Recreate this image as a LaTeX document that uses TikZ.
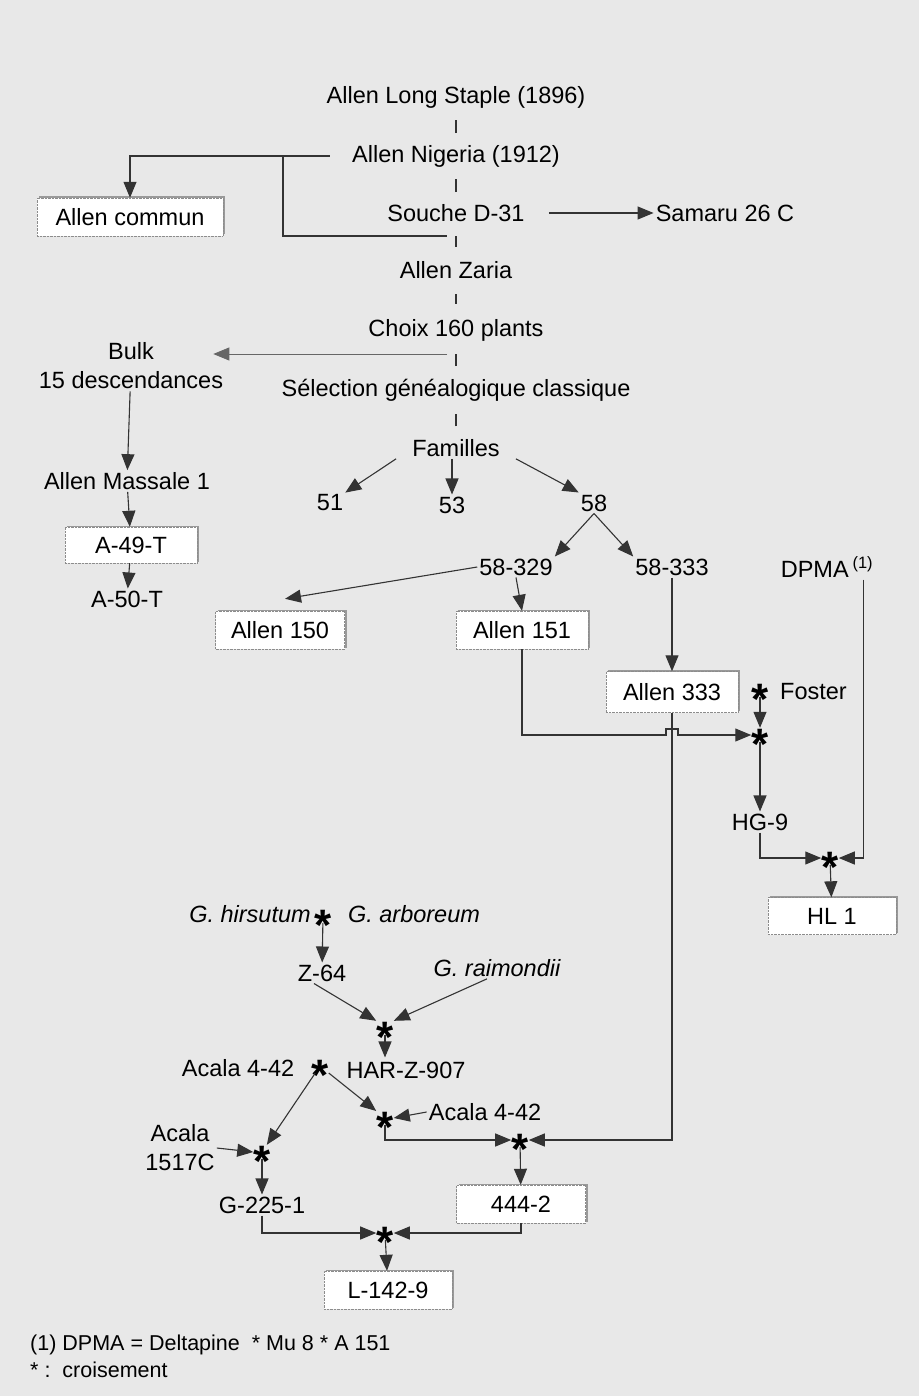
\documentclass[tikz,border=0pt]{standalone}
\usepackage{fontspec}
\setmainfont{Liberation Sans}
\usetikzlibrary{arrows.meta,shadows}

\newcommand{\crs}{\smash{\raisebox{-24pt}{*}}}

\tikzset{
    lbl/.style={inner sep=2pt, font=\fontsize{23.5}{29}\selectfont},
    box/.style={lbl, draw=black!45, densely dotted, fill=white, minimum height=38pt,
        drop shadow={shadow xshift=2pt, shadow yshift=1.5pt, fill=black!40, opacity=1}},
    cross/.style={inner sep=0pt, minimum size=14pt, font=\fontsize{44}{44}\selectfont\bfseries},
    link/.style={line width=1.1pt, draw=black!80},
    arr/.style={link, -{Triangle[length=16pt,width=13pt]}},
    tick/.style={link, shorten <=23pt, shorten >=23pt}
}

\begin{document}
\begin{tikzpicture}[x=1pt,y=-1pt]
    % background
    \fill[black!9] (0,0) rectangle (919,1396);
    \useasboundingbox (0,0) rectangle (919,1396);

    % main line
    \node[lbl] (lsta) at (456,97) {Allen Long Staple (1896)};
    \node[lbl] (nig) at (456,156) {Allen Nigeria (1912)};
    \node[lbl] (d31) at (456,213) {Souche D-31};
    \node[lbl] (sam) at (725,213) {Samaru 26 C};
    \node[box, minimum width=186pt] (commun) at (130,217) {Allen commun};
    \node[lbl] (zaria) at (456,270) {Allen Zaria};
    \node[lbl] (choix) at (456,330) {Choix 160 plants};
    \node[lbl] (sel) at (456,390) {Sélection généalogique classique};
    \node[lbl] (fam) at (456,448) {Familles};
    \foreach \a/\b in {lsta/nig, nig/d31, d31/zaria, zaria/choix, choix/sel, sel/fam}
        \draw[tick] (\a) -- (\b);
    \draw[arr, shorten <=22pt] (d31.east) -- (sam.west);

    % Allen commun
    \coordinate (brk) at (283,156);
    \coordinate (dbr) at (447,236);
    \draw[arr, shorten <=20pt] (nig.west) -| (commun.north);
    \draw[link] (brk) |- (dbr);

    % bulk
    \coordinate (cbr) at (447,354);
    \node[lbl, align=center] (bulk) at (131,366) {Bulk\\15 descendances};
    \node[lbl] (mass) at (127,481) {Allen Massale 1};
    \node[box, minimum width=132pt, minimum height=36pt] (a49) at (131,545) {A-49-T};
    \node[lbl] (a50) at (127,599) {A-50-T};
    \draw[arr, line width=0.8pt, draw=black!60, shorten >=-12pt] (cbr) -- (cbr -| bulk.east);
    \draw[arr] (bulk) -- (mass);
    \draw[arr] (mass) -- (a49);
    \draw[arr] (a49) -- (a50);

    % familles
    \node[lbl] (f51) at (330,503) {51};
    \node[lbl] (f53) at (452,505) {53};
    \node[lbl] (f58) at (594,503) {58};
    \draw[arr] ([xshift=-14pt]fam.south west) -- (f51.north east);
    \draw[arr] (fam.south -| f53.north) -- (f53.north);
    \draw[arr] ([xshift=14pt]fam.south east) -- (f58.north west);

    \node[lbl] (s329) at (516,567) {58-329};
    \node[lbl] (s333) at (672,567) {58-333};
    \node[lbl] (dpma) at (827,567) {DPMA\,\textsuperscript{(1)}};
    \draw[arr] (f58.south) -- (s329.north east);
    \draw[arr] (f58.south) -- (s333.north west);

    \node[box, minimum width=129pt] (a150) at (280,630) {Allen 150};
    \node[box, minimum width=132pt] (a151) at (522,630) {Allen 151};
    \node[box, minimum width=132pt, minimum height=41pt] (a333) at (672,692) {Allen 333};
    \draw[arr] (s329.west) -- ([xshift=5pt,yshift=12pt]a150.north);
    \draw[arr] (s329.south) -- (a151.north);
    \draw[arr] (s333.south) -- (a333.north);

    % HL 1
    \node[cross] (xf) at (760,690) {\crs};
    \node[lbl, anchor=west] (foster) at (778,692) {Foster};
    \node[cross] (x1) at (760,735) {\crs};
    \node[lbl] (hg9) at (760,822) {HG-9};
    \node[cross] (x2) at (830,858) {\crs};
    \node[box, minimum width=128pt, minimum height=37pt] (hl1) at (832,916) {HL 1};
    \coordinate (hop) at (666,735);
    \draw[arr] (a151.south) |- (hop) -- ++(0,-6) -- ++(12,0) -- ++(0,6) -- (x1.west);
    \draw[arr] (xf) -- (x1);
    \draw[arr] (x1) -- (hg9);
    \draw[arr] (hg9.south) |- (x2.west);
    \draw[arr] ([xshift=-12pt]dpma.south east) |- (x2.east);
    \draw[arr] (x2) -- (hl1);

    % HAR-Z-907
    \node[lbl, font=\fontsize{23.5}{29}\selectfont\itshape] (ghir) at (250,914) {G. hirsutum};
    \node[cross] (x3) at (323,916) {\crs};
    \node[lbl, font=\fontsize{23.5}{29}\selectfont\itshape] (garb) at (414,914) {G. arboreum};
    \node[lbl] (z64) at (322,973) {Z-64};
    \node[lbl, font=\fontsize{23.5}{29}\selectfont\itshape] (grai) at (497,968) {G. raimondii};
    \node[cross] (x4) at (385,1028) {\crs};
    \node[lbl] (har) at (406,1070) {HAR-Z-907};
    \draw[arr] (x3) -- (z64);
    \draw[arr] ([xshift=-8pt]z64.south) -- (x4.north west);
    \draw[arr] ([xshift=-10pt]grai.south) -- (x4.north east);
    \draw[arr, shorten >=2pt] (x4) -- (x4 |- har.north);

    % L-142-9
    \node[lbl] (ac1) at (238,1068) {Acala 4-42};
    \node[cross] (x5) at (320,1066) {\crs};
    \node[cross] (x6) at (385,1118) {\crs};
    \node[lbl] (ac2) at (485,1112) {Acala 4-42};
    \node[lbl, align=center] (acb) at (180,1148) {Acala\\1517C};
    \node[cross] (x7) at (262,1152) {\crs};
    \node[lbl] (g225) at (262,1205) {G-225-1};
    \node[cross] (x8) at (520,1140) {\crs};
    \node[box, minimum width=129pt] (b444) at (521,1204) {444-2};
    \node[cross] (x9) at (385,1233) {\crs};
    \node[box, minimum width=128pt] (l142) at (388,1290) {L-142-9};
    \draw[arr] (x5) -- (x7);
    \draw[arr] (x5) -- (x6);
    \draw[arr] (ac2.west) -- (x6.east);
    \draw[arr] (acb.east) -- (x7.west);
    \draw[arr] (x6.south) |- (x8.west);
    \draw[arr] (a333.south) |- (x8.east);
    \draw[arr] (x7) -- (g225);
    \draw[arr] (x8) -- (b444);
    \draw[arr] (g225.south) |- (x9.west);
    \draw[arr] (b444.south) |- (x9.east);
    \draw[arr] (x9) -- (l142);

    % notes
    \node[lbl, anchor=west, font=\fontsize{21.5}{26}\selectfont] (foot1) at (28,1345) {(1) DPMA = Deltapine\ \ * Mu 8 * A 151};
    \node[lbl, anchor=west, font=\fontsize{21.5}{26}\selectfont] (foot2) at (28,1370) {* :\ \ croisement};
\end{tikzpicture}
\end{document}
